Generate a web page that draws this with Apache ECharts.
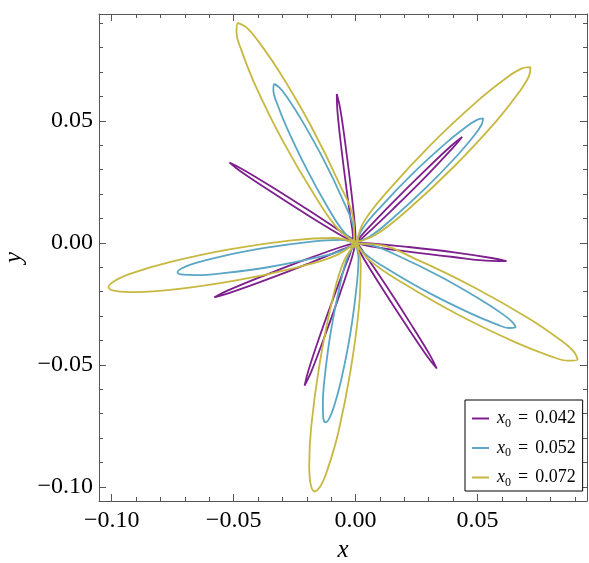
<!DOCTYPE html>
<html>
<head>
<meta charset="utf-8">
<script src="https://cdn.jsdelivr.net/npm/echarts@6/dist/echarts.min.js"></script>
<style>
html,body{margin:0;padding:0;background:#fff;}
#chart{width:589px;height:563px;}
</style>
</head>
<body>
<div id="chart"></div>
<script>
// ---- data ----
const seriesNames = ['x0 = 0.042', 'x0 = 0.052', 'x0 = 0.072'];
const seriesColors = ['#7d1f8c', '#5aa6c4', '#c6b840'];

const curve042 = [
  [0,0],
  [0.0040,0.0048],[0.0146,0.0159],[0.0277,0.0289],[0.0389,0.0395],[0.0437,0.0434],[0.0397,0.0387],[0.0291,0.0275],[0.0160,0.0145],[0.0048,0.0039],
  [0,0],
  [-0.0014,0.0060],[-0.0036,0.0212],[-0.0059,0.0395],[-0.0075,0.0548],[-0.0077,0.0610],[-0.0063,0.0550],[-0.0041,0.0398],[-0.0018,0.0215],[-0.0002,0.0062],
  [0,0],
  [-0.0055,0.0028],[-0.0186,0.0107],[-0.0341,0.0206],[-0.0469,0.0291],[-0.0517,0.0329],[-0.0462,0.0301],[-0.0331,0.0222],[-0.0176,0.0123],[-0.0049,0.0038],
  [0,0],
  [-0.0056,-0.0028],[-0.0199,-0.0087],[-0.0373,-0.0154],[-0.0519,-0.0206],[-0.0579,-0.0223],[-0.0523,-0.0195],[-0.0380,-0.0136],[-0.0206,-0.0069],[-0.0060,-0.0017],
  [0,0],
  [-0.0015,-0.0061],[-0.0064,-0.0208],[-0.0127,-0.0384],[-0.0182,-0.0529],[-0.0209,-0.0585],[-0.0194,-0.0525],[-0.0145,-0.0377],[-0.0082,-0.0202],[-0.0027,-0.0057],
  [0,0],
  [0.0038,-0.0048],[0.0125,-0.0175],[0.0225,-0.0330],[0.0305,-0.0460],[0.0333,-0.0515],[0.0295,-0.0467],[0.0209,-0.0340],[0.0109,-0.0186],[0.0028,-0.0055],
  [0,0],
  [0.0063,-0.0002],[0.0218,-0.0017],[0.0404,-0.0039],[0.0558,-0.0062],[0.0619,-0.0075],[0.0556,-0.0074],[0.0401,-0.0058],[0.0216,-0.0036],[0.0061,-0.0014],
  [0,0]
];

const curve052 = [
  [-0.0015,-0.0002],
  [0.0057,0.0025],[0.0155,0.0103],[0.0289,0.0226],[0.0417,0.0358],[0.0488,0.0442],[0.0517,0.0485],[0.0523,0.0510],[0.0498,0.0504],[0.0454,0.0476],[0.0368,0.0407],[0.0234,0.0284],[0.0107,0.0152],[0.0027,0.0056],
  [-0.0002,-0.0015],
  [-0.0008,0.0062],[-0.0053,0.0178],[-0.0132,0.0343],[-0.0221,0.0503],[-0.0280,0.0596],[-0.0313,0.0637],[-0.0335,0.0650],[-0.0337,0.0624],[-0.0323,0.0574],[-0.0282,0.0472],[-0.0203,0.0307],[-0.0115,0.0147],[-0.0046,0.0042],
  [0.0013,-0.0007],
  [-0.0062,0.0012],[-0.0188,0.0004],[-0.0372,-0.0021],[-0.0553,-0.0056],[-0.0661,-0.0084],[-0.0710,-0.0103],[-0.0730,-0.0120],[-0.0706,-0.0130],[-0.0653,-0.0132],[-0.0542,-0.0124],[-0.0359,-0.0100],[-0.0177,-0.0064],[-0.0055,-0.0031],
  [0.0011,0.0011],
  [-0.0031,-0.0055],[-0.0065,-0.0178],[-0.0101,-0.0361],[-0.0126,-0.0546],[-0.0134,-0.0658],[-0.0133,-0.0712],[-0.0123,-0.0736],[-0.0106,-0.0716],[-0.0087,-0.0666],[-0.0058,-0.0558],[-0.0022,-0.0375],[0.0003,-0.0190],[0.0012,-0.0063],
  [-0.0007,0.0013],
  [0.0042,-0.0047],[0.0148,-0.0117],[0.0309,-0.0209],[0.0476,-0.0291],[0.0579,-0.0334],[0.0630,-0.0349],[0.0656,-0.0347],[0.0643,-0.0325],[0.0602,-0.0291],[0.0508,-0.0230],[0.0347,-0.0138],[0.0180,-0.0056],[0.0063,-0.0009],
  [-0.0015,-0.0002]
];

const curve072 = [
  [-0.0018,-0.0003],
  [0.0082,0.0033],[0.0219,0.0140],[0.0405,0.0314],[0.0578,0.0500],[0.0673,0.0621],[0.0711,0.0683],[0.0717,0.0720],[0.0680,0.0714],[0.0618,0.0676],[0.0498,0.0580],[0.0312,0.0406],[0.0139,0.0220],[0.0032,0.0083],
  [-0.0003,-0.0018],
  [-0.0008,0.0089],[-0.0071,0.0252],[-0.0184,0.0481],[-0.0313,0.0702],[-0.0400,0.0828],[-0.0449,0.0884],[-0.0483,0.0900],[-0.0488,0.0863],[-0.0469,0.0792],[-0.0412,0.0648],[-0.0299,0.0419],[-0.0170,0.0198],[-0.0070,0.0055],
  [0.0016,-0.0008],
  [-0.0087,0.0020],[-0.0263,0.0010],[-0.0518,-0.0027],[-0.0770,-0.0081],[-0.0919,-0.0125],[-0.0987,-0.0155],[-0.1013,-0.0182],[-0.0979,-0.0198],[-0.0905,-0.0202],[-0.0750,-0.0192],[-0.0495,-0.0155],[-0.0243,-0.0101],[-0.0075,-0.0049],
  [0.0013,0.0013],
  [-0.0048,-0.0076],[-0.0098,-0.0246],[-0.0148,-0.0499],[-0.0182,-0.0755],[-0.0190,-0.0911],[-0.0185,-0.0985],[-0.0168,-0.1019],[-0.0141,-0.0992],[-0.0113,-0.0923],[-0.0070,-0.0774],[-0.0020,-0.0520],[0.0014,-0.0264],[0.0021,-0.0087],
  [-0.0008,0.0016],
  [0.0056,-0.0070],[0.0201,-0.0169],[0.0425,-0.0297],[0.0656,-0.0408],[0.0801,-0.0465],[0.0872,-0.0483],[0.0910,-0.0478],[0.0893,-0.0444],[0.0837,-0.0396],[0.0709,-0.0309],[0.0485,-0.0182],[0.0254,-0.0070],[0.0089,-0.0007],
  [-0.0018,-0.0003]
];

const xRange = [-0.1052, 0.0949];
const yRange = [-0.1058, 0.0938];
const xMajorTicks = [-0.10, -0.05, 0.00, 0.05];
const yMajorTicks = [-0.10, -0.05, 0.00, 0.05];
const xMinorTicks = [-0.09,-0.08,-0.07,-0.06,-0.04,-0.03,-0.02,-0.01,0.01,0.02,0.03,0.04,0.06,0.07,0.08,0.09];
const yMinorTicks = [-0.09,-0.08,-0.07,-0.06,-0.04,-0.03,-0.02,-0.01,0.01,0.02,0.03,0.04,0.06,0.07,0.08,0.09];

// ---- chart ----
const FONT = 'Liberation Serif';
const frameColor = '#555';
function fmt(v){ const s = Math.abs(v).toFixed(2); return (v < -1e-9 ? '\u2212' : '') + s; }

function mkAxis(pos, range, ticks, len, opts){
  const a = {
    type: 'value', position: pos, min: range[0], max: range[1],
    splitLine: {show: false},
    axisLine: {show: !!opts.line, onZero: false, lineStyle: {color: frameColor, width: 1}},
    axisTick: {show: true, inside: true, length: len, customValues: ticks, lineStyle: {color: frameColor, width: 1}},
    axisLabel: {show: false},
    gridIndex: 0
  };
  if (opts.labels) {
    a.axisLabel = {show: true, customValues: ticks, formatter: fmt, fontFamily: FONT, fontSize: 24, color: '#000', margin: opts.margin};
  }
  if (opts.name) {
    a.name = opts.name; a.nameLocation = 'middle'; a.nameGap = opts.nameGap;
    a.nameRotate = opts.nameRotate;
    a.nameTextStyle = {fontFamily: FONT, fontStyle: 'italic', fontSize: 25, color: '#000'};
  }
  return a;
}

const chart = echarts.init(document.getElementById('chart'), null, {renderer: 'canvas'});
const curves = [curve042, curve052, curve072];
chart.setOption({
  animation: false,
  backgroundColor: '#fff',
  grid: {left: 99, top: 14, right: 2, bottom: 62, containLabel: false, outerBoundsMode: 'none'},
  xAxis: [
    mkAxis('bottom', xRange, xMajorTicks, 7, {line: true, labels: true, margin: 8, name: 'x', nameGap: 33}),
    mkAxis('bottom', xRange, xMinorTicks, 4, {}),
    mkAxis('top', xRange, xMajorTicks, 7, {line: true}),
    mkAxis('top', xRange, xMinorTicks, 4, {})
  ],
  yAxis: [
    mkAxis('left', yRange, yMajorTicks, 7, {line: true, labels: true, margin: 6, name: 'y', nameGap: 69, nameRotate: 90}),
    mkAxis('left', yRange, yMinorTicks, 4, {}),
    mkAxis('right', yRange, yMajorTicks, 7, {line: true}),
    mkAxis('right', yRange, yMinorTicks, 4, {})
  ],
  legend: {
    orient: 'vertical', left: 465, top: 400,
    padding: [9.5, 7, 2.5, 7], itemGap: 9.5, itemWidth: 17, itemHeight: 2, icon: 'rect',
    backgroundColor: '#fff', borderColor: '#000', borderWidth: 1,
    data: seriesNames,
    formatter: function(name){ const v = name.split('= ')[1]; return '{i|x}{s|0}{e|=}{t|' + v + '}'; },
    textStyle: {
      fontFamily: FONT, fontSize: 18, color: '#000', padding: [0, 0, 0, 3],
      rich: {
        i: {fontFamily: FONT, fontStyle: 'italic', fontSize: 18, lineHeight: 22, color: '#000'},
        s: {fontFamily: FONT, fontSize: 12, lineHeight: 10, verticalAlign: 'bottom', color: '#000'},
        e: {fontFamily: FONT, fontSize: 18, lineHeight: 22, color: '#000', padding: [0, 7, 0, 7]},
        t: {fontFamily: FONT, fontSize: 18, lineHeight: 22, color: '#000'}
      }
    }
  },
  series: curves.map((c, i) => ({
    name: seriesNames[i], type: 'line', data: c, xAxisIndex: 0, yAxisIndex: 0,
    showSymbol: false, symbol: 'none', smooth: 0.4, color: seriesColors[i],
    lineStyle: {width: 1.8, color: seriesColors[i]}, clip: true
  }))
});
</script>
</body>
</html>
